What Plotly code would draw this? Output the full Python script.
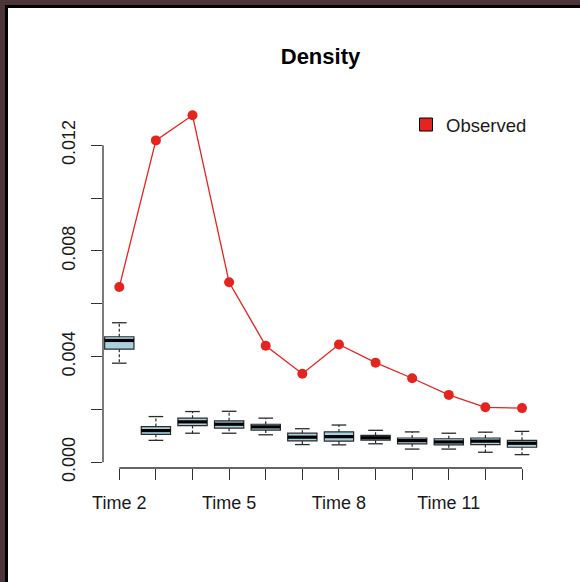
import plotly.graph_objects as go

# Time points (x positions 1..12) and their labels
times = ["Time 2", "Time 3", "Time 4", "Time 5", "Time 6", "Time 7",
         "Time 8", "Time 9", "Time 10", "Time 11", "Time 12", "Time 13"]
positions = list(range(1, len(times) + 1))

# Observed density per time point
observed = [0.00663, 0.01218, 0.01313, 0.00681, 0.00441, 0.00335,
            0.00446, 0.00377, 0.00318, 0.00255, 0.00208, 0.00205]

# Simulated density summaries (box statistics)
whisk_lo = [0.00375, 0.00083, 0.00110, 0.00110, 0.00104, 0.00067,
            0.00066, 0.00070, 0.00050, 0.00050, 0.00038, 0.00029]
box_q1 = [0.00428, 0.00106, 0.00139, 0.00129, 0.00122, 0.00081,
          0.00080, 0.00084, 0.00070, 0.00066, 0.00067, 0.00057]
box_med = [0.00461, 0.00120, 0.00153, 0.00144, 0.00134, 0.00095,
           0.00097, 0.00093, 0.00082, 0.00077, 0.00080, 0.00072]
box_q3 = [0.00475, 0.00135, 0.00167, 0.00157, 0.00144, 0.00110,
          0.00115, 0.00102, 0.00092, 0.00089, 0.00092, 0.00083]
whisk_hi = [0.00528, 0.00173, 0.00192, 0.00193, 0.00167, 0.00127,
            0.00141, 0.00121, 0.00115, 0.00110, 0.00114, 0.00117]

y_ticks = [0.000, 0.002, 0.004, 0.006, 0.008, 0.010, 0.012]
y_labels = ["0.000", "", "0.004", "", "0.008", "", "0.012"]
x_labels = [t if i % 3 == 0 else "" for i, t in enumerate(times)]

RED = "#e5241f"
AXIS = "#333333"
BOXLINE = "#2a2a2a"
FONT = "Liberation Sans, Arial, Helvetica, sans-serif"
BOXWEX = 0.8
STAPLE = 0.5 * BOXWEX

W, H = 580, 582
L, R, T, B = 103, 42, 100, 114

fig = go.Figure()

# dashed whiskers from box edges out to the staples
wx, wy = [], []
for p, lo, q1, q3, hi in zip(positions, whisk_lo, box_q1, box_q3, whisk_hi):
    wx += [p, p, None, p, p, None]
    wy += [q3, hi, None, q1, lo, None]
fig.add_trace(go.Scatter(x=wx, y=wy, mode="lines",
                         line=dict(color=BOXLINE, width=1.2, dash="3px,2px"),
                         showlegend=False, hoverinfo="skip"))

# staples at the whisker ends
sx, sy = [], []
for p, lo, hi in zip(positions, whisk_lo, whisk_hi):
    sx += [p - STAPLE / 2, p + STAPLE / 2, None, p - STAPLE / 2, p + STAPLE / 2, None]
    sy += [hi, hi, None, lo, lo, None]
fig.add_trace(go.Scatter(x=sx, y=sy, mode="lines",
                         line=dict(color=BOXLINE, width=1.3),
                         showlegend=False, hoverinfo="skip"))

# boxes (whiskers drawn separately above)
fig.add_trace(go.Box(
    x=positions, q1=box_q1, median=box_med, q3=box_q3,
    lowerfence=box_q1, upperfence=box_q3,
    width=BOXWEX, whiskerwidth=0,
    fillcolor="#a8d0e0", line=dict(color=BOXLINE, width=1.2),
    showlegend=False, hoverinfo="skip",
))

# thick median bars drawn over each box
mx, my = [], []
for p, m in zip(positions, box_med):
    mx += [p - BOXWEX / 2, p + BOXWEX / 2, None]
    my += [m, m, None]
fig.add_trace(go.Scatter(x=mx, y=my, mode="lines",
                         line=dict(color="#000000", width=3.2),
                         showlegend=False, hoverinfo="skip"))

fig.add_trace(go.Scatter(
    x=positions, y=observed, mode="lines+markers",
    line=dict(color=RED, width=1.3),
    marker=dict(color=RED, size=10),
    showlegend=False,
))

# legend entry
fig.add_trace(go.Scatter(
    x=[None], y=[None], mode="markers", name="Observed",
    marker=dict(symbol="square", size=13, color=RED,
                line=dict(color="#000000", width=1)),
))

def px_x(px):
    return (px - L) / (W - L - R)

def px_y(py):
    return (H - B - py) / (H - T - B)

shapes = [
    # dark frame along top and left edges
    dict(type="rect", xref="paper", yref="paper", layer="below",
         x0=px_x(5), x1=px_x(W + 5), y0=px_y(H + 5), y1=px_y(5),
         fillcolor="#000000", line=dict(width=0)),
    dict(type="rect", xref="paper", yref="paper", layer="below",
         x0=px_x(8), x1=px_x(W + 5), y0=px_y(H + 5), y1=px_y(8),
         fillcolor="#ffffff", line=dict(width=0)),
    # axis lines spanning the tick range
    dict(type="line", xref="x", yref="paper",
         x0=positions[0], x1=positions[-1], y0=0, y1=0,
         line=dict(color=AXIS, width=1.3)),
    dict(type="line", xref="paper", yref="y",
         x0=0, x1=0, y0=y_ticks[0], y1=y_ticks[-1],
         line=dict(color=AXIS, width=1.3)),
]

fig.update_layout(
    width=W, height=H,
    margin=dict(l=L, r=R, t=T, b=B, pad=0),
    paper_bgcolor="#4a3636",
    plot_bgcolor="rgba(0,0,0,0)",
    font=dict(family=FONT, size=18, color="#1a1a1a"),
    title=dict(text="<b>Density</b>", xref="container", x=320.5 / W,
               xanchor="center", yref="container", y=1 - 56 / H,
               yanchor="middle",
               font=dict(size=22, color="#000000", family=FONT)),
    showlegend=True,
    legend=dict(x=px_x(406), y=px_y(106), xanchor="left", yanchor="top",
                bgcolor="rgba(0,0,0,0)", borderwidth=0,
                font=dict(size=18.5, color="#1a1a1a")),
    shapes=shapes,
    xaxis=dict(range=[0.555, 12.437], tickvals=positions, ticktext=x_labels,
               ticks="outside", ticklen=11, tickwidth=1.3, tickcolor=AXIS,
               showgrid=False, zeroline=False, showline=False,
               ticklabelstandoff=7, fixedrange=True),
    yaxis=dict(range=[-0.000216, 0.013708], tickvals=y_ticks, ticktext=y_labels,
               ticks="outside", ticklen=11, tickwidth=1.3, tickcolor=AXIS,
               tickangle=-90, showgrid=False, zeroline=False, showline=False,
               ticklabelstandoff=9, fixedrange=True),
)

fig.write_html("out.html")
